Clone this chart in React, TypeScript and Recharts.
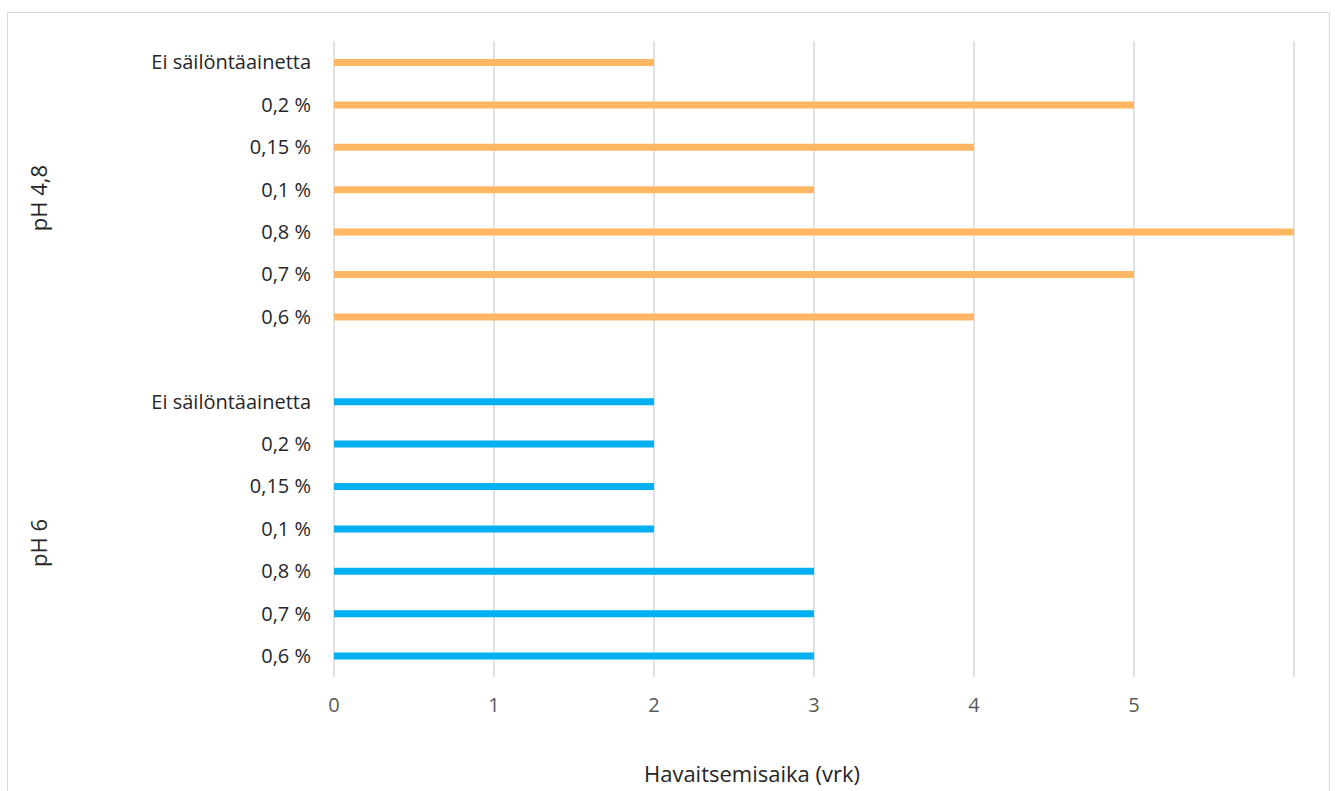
import { BarChart, Bar, XAxis, YAxis, CartesianGrid, Cell } from "recharts";

// top-to-bottom order inside each pH group
const preservatives = ["Ei säilöntäainetta", "0,2 %", "0,15 %", "0,1 %", "0,8 %", "0,7 %", "0,6 %"];
const ph48Days = [2, 5, 4, 3, 6, 5, 4];
const ph6Days = [2, 2, 2, 2, 3, 3, 3];
const xTicks = [0, 1, 2, 3, 4, 5, 6];

const ORANGE = "#ffb764";
const BLUE = "#00b0f0";
const FONT = "'Open Sans', sans-serif";

type Row = { key: string; label: string; days: number | null; group: "ph48" | "ph6" | "gap" };

const rows: Row[] = [
  ...preservatives.map((p, i) => ({ key: `a${i}`, label: p, days: ph48Days[i], group: "ph48" as const })),
  { key: "gap", label: "", days: null, group: "gap" as const },
  ...preservatives.map((p, i) => ({ key: `b${i}`, label: p, days: ph6Days[i], group: "ph6" as const })),
];

const labelByKey: Record<string, string> = Object.fromEntries(rows.map((r) => [r.key, r.label]));

export default function App() {
  return (
    <div style={{ position: "relative", width: 1336, height: 791, overflow: "hidden", background: "#fff" }}>
      <style>{`body{margin:0}`}</style>
      <div
        style={{
          position: "absolute",
          left: 7,
          top: 12,
          width: 1323,
          height: 800,
          border: "1.5px solid #d9d9d9",
          boxSizing: "border-box",
        }}
      />
      <BarChart
        width={1336}
        height={791}
        data={rows}
        layout="vertical"
        margin={{ top: 41, right: 42, bottom: 84, left: 0 }}
        barCategoryGap={0}
      >
        <CartesianGrid horizontal={false} stroke="#d9d9d9" strokeWidth={1.5} />
        <XAxis
          type="number"
          domain={[0, 6]}
          ticks={xTicks}
          axisLine={false}
          tickLine={false}
          tickMargin={15}
          tick={{ fill: "#595959", fontSize: 20, fontFamily: FONT }}
          tickFormatter={(v: number) => (v === 6 ? "" : String(v))}
        />
        <YAxis
          type="category"
          dataKey="key"
          width={334}
          axisLine={false}
          tickLine={false}
          tickMargin={17}
          interval={0}
          tick={{ fill: "#262626", fontSize: 20, fontFamily: FONT }}
          tickFormatter={(k: string) => labelByKey[k] ?? ""}
        />
        <Bar dataKey="days" barSize={7} isAnimationActive={false}>
          {rows.map((r) => (
            <Cell key={r.key} fill={r.group === "ph6" ? BLUE : ORANGE} />
          ))}
        </Bar>
      </BarChart>
      <svg
        width={1336}
        height={791}
        style={{ position: "absolute", left: 0, top: 0, pointerEvents: "none" }}
        fontFamily={FONT}
      >
        <text x={47} y={198} fontSize={22} fill="#262626" textAnchor="middle" transform="rotate(-90 47 198)">
          pH 4,8
        </text>
        <text x={47} y={543} fontSize={22} fill="#262626" textAnchor="middle" transform="rotate(-90 47 543)">
          pH 6
        </text>
        <text x={752} y={782} fontSize={22} fill="#262626" textAnchor="middle">
          Havaitsemisaika (vrk)
        </text>
      </svg>
    </div>
  );
}
